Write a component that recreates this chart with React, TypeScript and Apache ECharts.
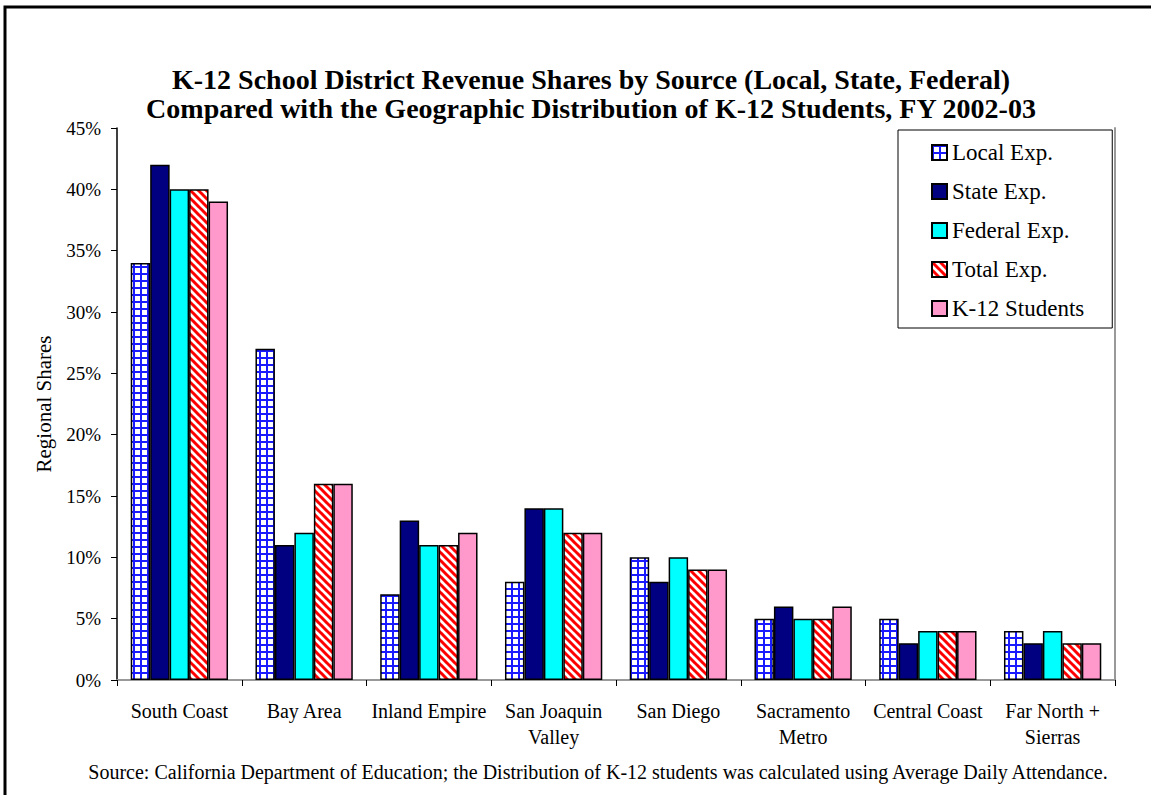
import React, { useEffect, useRef } from "react";
import * as echarts from "echarts";

const categories = [
  "South Coast",
  "Bay Area",
  "Inland Empire",
  "San Joaquin\nValley",
  "San Diego",
  "Sacramento\nMetro",
  "Central Coast",
  "Far North +\nSierras",
];
const localExp = [34, 27, 7, 8, 10, 5, 5, 4];
const stateExp = [42, 11, 13, 14, 8, 6, 3, 3];
const federalExp = [40, 12, 11, 14, 10, 5, 4, 4];
const totalExp = [40, 16, 11, 12, 9, 5, 4, 3];
const k12Students = [39, 16, 12, 12, 9, 6, 4, 3];
const seriesNames = ["Local Exp.", "State Exp.", "Federal Exp.", "Total Exp.", "K-12 Students"];
const yTicks = [0, 5, 10, 15, 20, 25, 30, 35, 40, 45];

const titleText =
  "K-12 School District Revenue Shares by Source (Local, State, Federal)\nCompared with the Geographic Distribution of K-12 Students, FY 2002-03";
const sourceText =
  "Source: California Department of Education; the Distribution of K-12 students was calculated using Average Daily Attendance.";

const FONT = "'Liberation Serif', 'Times New Roman', serif";

function gridPattern() {
  const c = document.createElement("canvas");
  c.width = 7;
  c.height = 7;
  const ctx = c.getContext("2d")!;
  ctx.fillStyle = "#ffffff";
  ctx.fillRect(0, 0, 7, 7);
  ctx.fillStyle = "#1a1aff";
  ctx.fillRect(0, 0, 7, 2);
  ctx.fillRect(0, 0, 2, 7);
  return { image: c, repeat: "repeat", imageWidth: 7, imageHeight: 7 } as any;
}

function stripePattern() {
  const c = document.createElement("canvas");
  c.width = 8;
  c.height = 8;
  const ctx = c.getContext("2d")!;
  ctx.fillStyle = "#ffffff";
  ctx.fillRect(0, 0, 8, 8);
  ctx.strokeStyle = "#ff0000";
  ctx.lineWidth = 3;
  for (const k of [-8, 0, 8]) {
    ctx.beginPath();
    ctx.moveTo(k - 1, -1);
    ctx.lineTo(k + 9, 9);
    ctx.stroke();
  }
  return { image: c, repeat: "repeat", imageWidth: 8, imageHeight: 8 } as any;
}

export default function App() {
  const ref = useRef<HTMLDivElement>(null);
  useEffect(() => {
    if (!ref.current) return;
    const chart = echarts.init(ref.current, undefined, { renderer: "svg" });
    const colors = [gridPattern(), "#000080", "#00ffff", stripePattern(), "#ff99cc"];
    const datasets = [localExp, stateExp, federalExp, totalExp, k12Students];
    chart.setOption({
      animation: false,
      backgroundColor: "#ffffff",
      title: {
        text: titleText,
        left: 586,
        top: 60,
        textAlign: "center",
        textStyle: {
          fontFamily: FONT,
          fontWeight: "bold",
          fontSize: 28,
          lineHeight: 29,
          color: "#000",
        },
      },
      grid: { left: 117, right: 36, top: 128, bottom: 115, containLabel: false },
      legend: {
        orient: "vertical",
        left: 898,
        top: 130,
        padding: [11, 28, 8, 33],
        itemWidth: 15,
        itemHeight: 15,
        itemGap: 16,
        icon: "rect",
        backgroundColor: "#ffffff",
        borderColor: "#000",
        borderWidth: 1,
        borderRadius: 0,
        data: seriesNames,
        textStyle: { fontFamily: FONT, fontSize: 23, lineHeight: 22, color: "#000" },
      },
      xAxis: [
        {
          type: "category",
          data: categories,
          axisLine: { show: true, lineStyle: { color: "#000", width: 1.5 } },
          axisTick: { show: true, length: 6, lineStyle: { color: "#000" } },
          axisLabel: {
            fontFamily: FONT,
            fontSize: 20,
            color: "#000",
            margin: 18,
            lineHeight: 26,
            interval: 0,
          },
        },
        {
          type: "category",
          position: "top",
          data: categories,
          axisLine: { show: true, lineStyle: { color: "#999", width: 2 } },
          axisTick: { show: false },
          axisLabel: { show: false },
        },
      ],
      yAxis: [
        {
          type: "value",
          min: 0,
          max: 45,
          interval: 5,
          name: "Regional Shares",
          nameLocation: "middle",
          nameGap: 63,
          nameTextStyle: { fontFamily: FONT, fontSize: 21, color: "#000" },
          axisLine: { show: true, lineStyle: { color: "#000", width: 1.5 } },
          axisTick: { show: true, length: 6, lineStyle: { color: "#000" } },
          splitLine: { show: false },
          axisLabel: {
            fontFamily: FONT,
            fontSize: 19,
            color: "#000",
            margin: 16,
            formatter: (v: number) => (yTicks.includes(v) ? v + "%" : ""),
          },
        },
        {
          type: "value",
          position: "right",
          min: 0,
          max: 45,
          interval: 5,
          axisLine: { show: true, lineStyle: { color: "#999", width: 2 } },
          axisTick: { show: false },
          axisLabel: { show: false },
          splitLine: { show: false },
        },
      ],
      series: seriesNames.map((name, i) => ({
        name,
        type: "bar",
        data: datasets[i],
        barGap: "0%",
        barCategoryGap: "22%",
        itemStyle: { color: colors[i], borderColor: "#000", borderWidth: 1.5 },
      })),
      graphic: [
        {
          type: "polyline",
          shape: { points: [[5, 800], [5, 7], [1160, 7]] },
          style: { stroke: "#000", lineWidth: 3, fill: "none" },
          silent: true,
        },
        {
          type: "text",
          x: 598,
          y: 772,
          style: {
            text: sourceText,
            fontFamily: FONT,
            fontSize: 20,
            fill: "#000",
            textAlign: "center",
            textVerticalAlign: "middle",
          },
        },
      ],
    });
    return () => chart.dispose();
  }, []);
  return (
    <div
      ref={ref}
      style={{ position: "absolute", left: 0, top: 0, width: 1151, height: 795, background: "#fff" }}
    />
  );
}
